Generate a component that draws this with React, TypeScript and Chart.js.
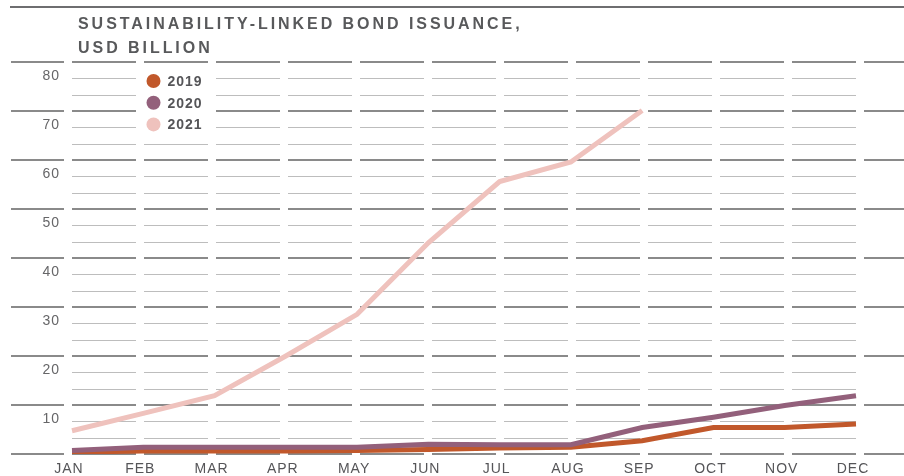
import React, { useEffect, useRef } from 'react';
import { Chart, registerables } from 'chart.js';

Chart.register(...registerables);

const months = ['JAN', 'FEB', 'MAR', 'APR', 'MAY', 'JUN', 'JUL', 'AUG', 'SEP', 'OCT', 'NOV', 'DEC'];
const values2019 = [0.4, 0.6, 0.6, 0.6, 0.7, 0.9, 1.2, 1.4, 2.7, 5.4, 5.4, 6.1];
const values2020 = [0.7, 1.4, 1.4, 1.4, 1.4, 2.0, 1.9, 1.9, 5.4, 7.5, 9.9, 11.9];
const values2021 = [4.75, 8.3, 11.9, 20.0, 28.5, 43.1, 55.6, 59.6, 70.1];
const seriesNames = ['2019', '2020', '2021'];
const seriesColors = ['#c1582b', '#93607b', '#efc2bd'];
const yTickValues = [0, 10, 20, 30, 40, 50, 60, 70, 80];
const titleLines = ['SUSTAINABILITY-LINKED BOND ISSUANCE,', 'USD BILLION'];

const FONT = '"Liberation Sans", Arial, sans-serif';
const GAP = 8;

function computeGaps(chart: any) {
  const x = chart.scales.x;
  const n = months.length;
  const gaps: number[][] = [];
  for (let i = 0; i < n; i++) {
    const px = x.getPixelForValue(i);
    const l = px - GAP + (GAP * i) / (n - 1);
    gaps.push([l, l + GAP]);
  }
  return gaps;
}

const spacingPlugin = {
  id: 'spacing',
  beforeDraw(chart: any) {
    (chart.ctx as any).letterSpacing = '1px';
  },
};

const gridPlugin = {
  id: 'segGrid',
  beforeDatasetsDraw(chart: any) {
    const { ctx, width } = chart;
    const y = chart.scales.y;
    const gaps = computeGaps(chart);
    const n = gaps.length;
    const mids: number[][] = [];
    for (let i = 0; i < n - 1; i++) mids.push([gaps[i][1], gaps[i + 1][0]]);
    const thick = [[11, gaps[0][0]], ...mids, [gaps[n - 1][1], width]];
    ctx.save();
    ctx.strokeStyle = '#bdbdbd';
    ctx.lineWidth = 1;
    for (let t = 0; t < yTickValues.length - 1; t++) {
      for (let k = 1; k < 3; k++) {
        const v = yTickValues[t] + ((yTickValues[t + 1] - yTickValues[t]) * k) / 3;
        const py = Math.round(y.getPixelForValue(v)) + 0.5;
        ctx.beginPath();
        for (const [a, b] of mids) {
          ctx.moveTo(a, py);
          ctx.lineTo(b, py);
        }
        ctx.stroke();
      }
    }
    ctx.strokeStyle = '#8a8a8a';
    ctx.lineWidth = 2;
    for (const v of yTickValues) {
      const py = Math.round(y.getPixelForValue(v));
      ctx.beginPath();
      for (const [a, b] of thick) {
        ctx.moveTo(a, py);
        ctx.lineTo(b, py);
      }
      ctx.stroke();
    }
    ctx.restore();
  },
};

const legendPlugin = {
  id: 'customLegend',
  afterDatasetsDraw(chart: any) {
    const { ctx, chartArea } = chart;
    const gaps = computeGaps(chart);
    ctx.save();
    ctx.fillStyle = '#ffffff';
    ctx.fillRect(gaps[1][0], chartArea.top + 4, gaps[2][1] - gaps[1][0], 70);
    const cx = gaps[1][1] + 9.5;
    (ctx as any).letterSpacing = '1px';
    ctx.font = `bold 14px ${FONT}`;
    ctx.textBaseline = 'middle';
    ctx.textAlign = 'left';
    seriesNames.forEach((name, i) => {
      const cy = chartArea.top + 19 + i * 21.7;
      ctx.beginPath();
      ctx.fillStyle = seriesColors[i];
      ctx.arc(cx, cy, 7, 0, Math.PI * 2);
      ctx.fill();
      ctx.fillStyle = '#555558';
      ctx.fillText(name, cx + 14, cy + 1);
    });
    ctx.restore();
  },
};

export default function App() {
  const canvasRef = useRef<HTMLCanvasElement | null>(null);

  useEffect(() => {
    if (!canvasRef.current) return;
    const chart = new Chart(canvasRef.current, {
      type: 'line',
      data: {
        labels: months,
        datasets: [
          {
            label: seriesNames[0],
            data: values2019,
            borderColor: seriesColors[0],
            backgroundColor: seriesColors[0],
            borderWidth: 5,
            pointRadius: 0,
            tension: 0,
            order: 1,
          },
          {
            label: seriesNames[1],
            data: values2020,
            borderColor: seriesColors[1],
            backgroundColor: seriesColors[1],
            borderWidth: 5,
            pointRadius: 0,
            tension: 0,
            order: 0,
          },
          {
            label: seriesNames[2],
            data: values2021,
            borderColor: seriesColors[2],
            backgroundColor: seriesColors[2],
            borderWidth: 5,
            pointRadius: 0,
            tension: 0,
            order: 2,
          },
        ],
      },
      options: {
        responsive: false,
        animation: false,
        layout: { padding: { top: 62, right: 48, left: 0, bottom: 0 } },
        plugins: {
          legend: { display: false },
          tooltip: { enabled: false },
          title: { display: false },
        },
        scales: {
          x: {
            type: 'category',
            offset: false,
            grid: { display: false, drawTicks: false },
            border: { display: false },
            ticks: {
              color: '#555558',
              font: { family: FONT, size: 14 },
              padding: 7,
              maxRotation: 0,
              autoSkip: false,
              labelOffset: -3,
            },
            afterFit: (s: any) => {
              s.height = 22;
            },
          },
          y: {
            min: 0,
            max: 80,
            grid: { display: false, drawTicks: false },
            border: { display: false },
            ticks: {
              stepSize: 10,
              color: '#666668',
              font: { family: FONT, size: 14 },
              padding: 12,
              labelOffset: 14,
              callback: (v: any) => (Number(v) === 0 ? '' : String(v)),
            },
            afterFit: (s: any) => {
              s.width = 72;
            },
          },
        },
      },
      plugins: [spacingPlugin, gridPlugin, legendPlugin],
    });
    return () => chart.destroy();
  }, []);

  return (
    <div
      style={{
        position: 'fixed',
        left: 0,
        top: 0,
        width: 904,
        height: 476,
        background: '#ffffff',
        overflow: 'hidden',
      }}
    >
      <div
        style={{
          position: 'absolute',
          left: 10,
          top: 6,
          width: 894,
          height: 2,
          background: '#6e6e70',
        }}
      />
      <div
        style={{
          position: 'absolute',
          left: 78,
          top: 12,
          fontFamily: FONT,
          fontWeight: 'bold',
          fontSize: 16,
          lineHeight: '24px',
          letterSpacing: '2.95px',
          color: '#58595b',
          whiteSpace: 'nowrap',
        }}
      >
        {titleLines.map((t) => (
          <div key={t}>{t}</div>
        ))}
      </div>
      <canvas ref={canvasRef} width={904} height={476} style={{ display: 'block' }} />
    </div>
  );
}
